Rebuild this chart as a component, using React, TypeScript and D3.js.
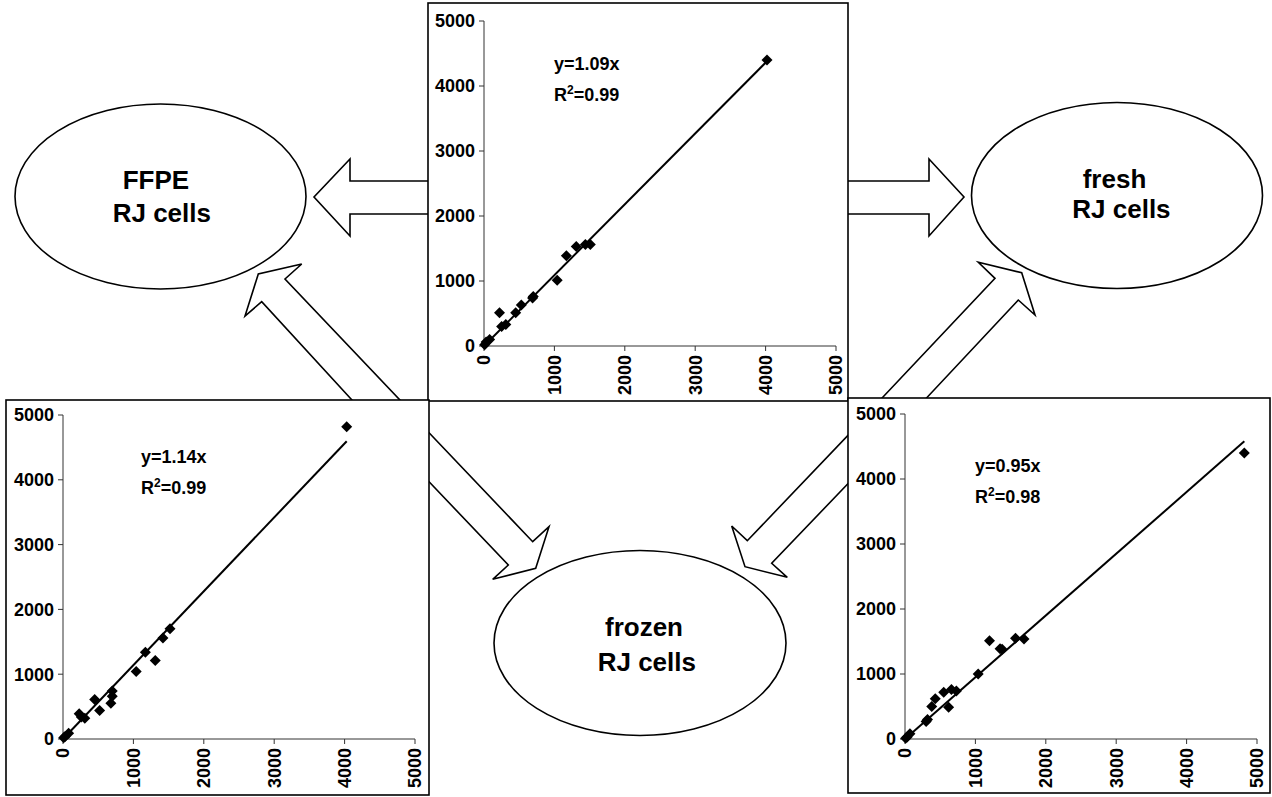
import React from "react";
import * as d3 from "d3";

// Measurements per specimen pair (x = reference method, y = compared method)
const TICKS = [0, 1000, 2000, 3000, 4000, 5000];

const topX = [10, 30, 80, 250, 310, 220, 450, 530, 690, 700, 1040, 1170, 1310, 1440, 1510, 4020];
const topY = [20, 60, 100, 300, 330, 510, 510, 630, 740, 760, 1010, 1390, 1530, 1560, 1560, 4400];

const leftX = [10, 30, 80, 230, 260, 310, 450, 520, 680, 700, 700, 1040, 1170, 1310, 1420, 1520, 4030];
const leftY = [20, 40, 90, 390, 340, 320, 610, 440, 550, 660, 740, 1040, 1340, 1210, 1560, 1700, 4820];

const rightX = [10, 30, 70, 300, 320, 380, 430, 550, 620, 660, 730, 1040, 1200, 1350, 1380, 1570, 1690, 4820];
const rightY = [10, 30, 80, 270, 300, 500, 620, 720, 490, 760, 740, 1000, 1510, 1390, 1380, 1550, 1540, 4400];

const slopes = { top: 1.09, left: 1.14, right: 0.95 };
const r2 = { top: "0.99", left: "0.99", right: "0.98" };

const FONT = "'Liberation Sans', Arial, Helvetica, sans-serif";

type Box = { x: number; y: number; w: number; h: number };
type Plot = { x0: number; x1: number; y0: number; y1: number };

const diamond = {
  draw(ctx: any, size: number) {
    const r = Math.sqrt(size / 2);
    ctx.moveTo(0, -r);
    ctx.lineTo(r, 0);
    ctx.lineTo(0, r);
    ctx.lineTo(-r, 0);
    ctx.closePath();
  },
};
const markerPath = d3.symbol().type(diamond as any).size(2 * 5.5 * 5.5)() as string;

function Panel(props: {
  box: Box;
  plot: Plot;
  xs: number[];
  ys: number[];
  slope: number;
  r2: string;
  eqX: number;
  eqY: number;
}) {
  const { box, plot, xs, ys, slope, eqX, eqY } = props;
  const x = d3.scaleLinear().domain([0, 5000]).range([plot.x0, plot.x1]);
  const y = d3.scaleLinear().domain([0, 5000]).range([plot.y0, plot.y1]);
  const xMax = d3.max(xs) as number;
  const fit = d3.line<number>()
    .x((v) => x(v))
    .y((v) => y(slope * v))([0, xMax]) as string;
  const axisColor = "#333";
  return (
    <g>
      <rect x={box.x} y={box.y} width={box.w} height={box.h} fill="#fff" stroke="#000" strokeWidth={1.6} />
      {/* axes */}
      <line x1={plot.x0} x2={plot.x0} y1={plot.y0} y2={plot.y1} stroke={axisColor} strokeWidth={1} />
      <line x1={plot.x0} x2={plot.x1} y1={plot.y0} y2={plot.y0} stroke={axisColor} strokeWidth={1} />
      {TICKS.map((t) => (
        <g key={"y" + t}>
          <line x1={plot.x0 - 5} x2={plot.x0} y1={y(t)} y2={y(t)} stroke={axisColor} strokeWidth={1} />
          <text
            x={plot.x0 - 9}
            y={y(t)}
            dy="0.36em"
            textAnchor="end"
            fontFamily={FONT}
            fontWeight="bold"
            fontSize={18}
          >
            {t}
          </text>
        </g>
      ))}
      {TICKS.map((t) => (
        <g key={"x" + t}>
          <line x1={x(t)} x2={x(t)} y1={plot.y0} y2={plot.y0 + 5} stroke={axisColor} strokeWidth={1} />
          <text
            transform={`translate(${x(t)},${plot.y0 + 9}) rotate(-90)`}
            dy="0.36em"
            textAnchor="end"
            fontFamily={FONT}
            fontWeight="bold"
            fontSize={18}
          >
            {t}
          </text>
        </g>
      ))}
      {/* regression line through the origin */}
      <path d={fit} fill="none" stroke="#000" strokeWidth={2} />
      {xs.map((v, i) => (
        <path key={i} d={markerPath} transform={`translate(${x(v)},${y(ys[i])})`} fill="#000" />
      ))}
      <text x={eqX} y={eqY} fontFamily={FONT} fontWeight="bold" fontSize={18}>
        {`y=${slope.toFixed(2)}x`}
      </text>
      <text x={eqX} y={eqY + 31} fontFamily={FONT} fontWeight="bold" fontSize={18}>
        R
        <tspan fontSize={12} dy={-7}>2</tspan>
        <tspan dy={7}>{`=${props.r2}`}</tspan>
      </text>
    </g>
  );
}

// Block-arrow outlines linking the comparison panels to the specimen types
const arrows: [number, number][][] = [
  [[440, 181], [350, 181], [350, 159], [314, 197], [350, 236], [350, 214], [440, 214]],
  [[830, 181], [929, 181], [929, 159], [964, 197], [929, 236], [929, 214], [830, 214]],
  [[370.3, 420], [261.7, 301.7], [245, 316], [258.3, 274], [301.7, 264], [285, 279], [418.9, 420]],
  [[861.3, 420], [995, 278.3], [978.3, 262.3], [1021.7, 272.7], [1035, 315], [1018.3, 300], [905.9, 420]],
  [[410, 412.7], [532.7, 541.7], [549, 526.7], [535.7, 568.3], [492.7, 579.3], [508.3, 565], [410, 461.7]],
  [[868, 414.4], [747.3, 540.7], [731.7, 526], [745, 566.7], [787.3, 577.3], [771.7, 563.3], [868, 462.7]],
];

const specimens = [
  { cx: 160.5, cy: 196.5, rx: 145.5, ry: 92.5, lines: [["FFPE", 122.7, 189], ["RJ cells", 112.7, 221.7]] },
  { cx: 1117, cy: 195.5, rx: 145.5, ry: 93, lines: [["fresh", 1082.7, 187.7], ["RJ cells", 1072.3, 218.3]] },
  { cx: 640, cy: 643, rx: 146, ry: 92.5, lines: [["frozen", 605, 635.7], ["RJ cells", 597.7, 671]] },
];

export default function App() {
  const polyLine = d3.line();
  return (
    <svg
      width={1272}
      height={797}
      viewBox="0 0 1272 797"
      style={{ position: "absolute", left: 0, top: 0, background: "#fff" }}
    >
      <rect width={1272} height={797} fill="#fff" />
      {arrows.map((pts, i) => (
        <path
          key={i}
          d={(polyLine(pts) as string) + "Z"}
          fill="#fff"
          stroke="#000"
          strokeWidth={1.6}
          strokeLinejoin="miter"
        />
      ))}
      {specimens.map((s, i) => (
        <g key={i}>
          <ellipse cx={s.cx} cy={s.cy} rx={s.rx} ry={s.ry} fill="#fff" stroke="#000" strokeWidth={1.6} />
          {s.lines.map((l, j) => (
            <text
              key={j}
              x={l[1] as number}
              y={l[2] as number}
              fontFamily={FONT}
              fontWeight="bold"
              fontSize={26}
            >
              {l[0]}
            </text>
          ))}
        </g>
      ))}
      <Panel
        box={{ x: 428, y: 3, w: 420, h: 398 }}
        plot={{ x0: 484, x1: 836, y0: 346, y1: 21 }}
        xs={topX}
        ys={topY}
        slope={slopes.top}
        r2={r2.top}
        eqX={554}
        eqY={70}
      />
      <Panel
        box={{ x: 6, y: 400, w: 423, h: 395 }}
        plot={{ x0: 63, x1: 415, y0: 739, y1: 415 }}
        xs={leftX}
        ys={leftY}
        slope={slopes.left}
        r2={r2.left}
        eqX={141}
        eqY={463}
      />
      <Panel
        box={{ x: 848, y: 398, w: 422, h: 395 }}
        plot={{ x0: 905, x1: 1257, y0: 739, y1: 414 }}
        xs={rightX}
        ys={rightY}
        slope={slopes.right}
        r2={r2.right}
        eqX={975}
        eqY={472}
      />
    </svg>
  );
}
